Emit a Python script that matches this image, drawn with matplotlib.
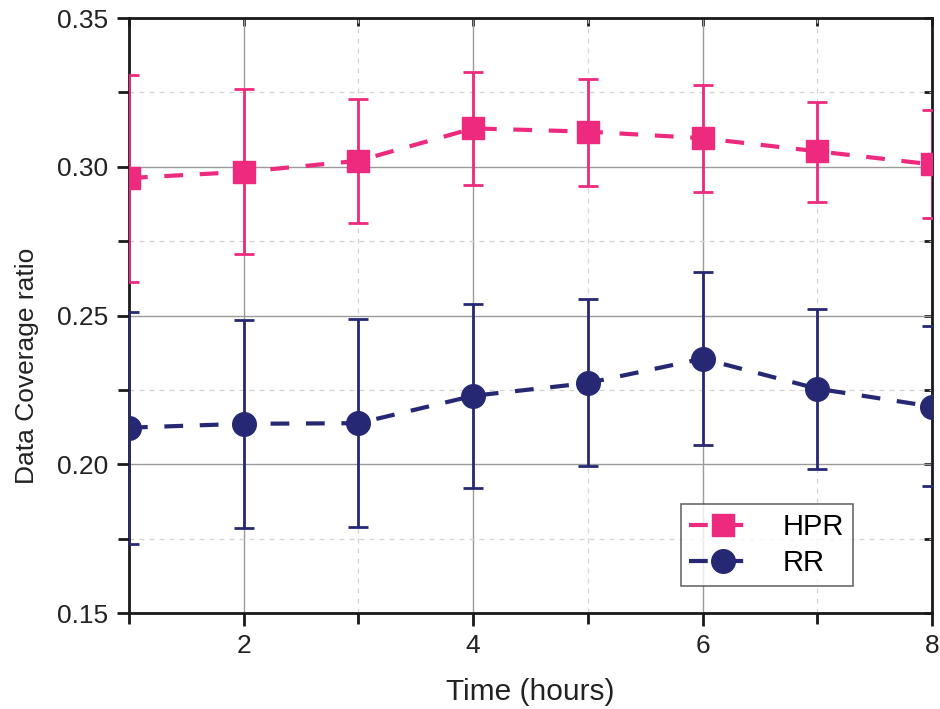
import matplotlib
matplotlib.use("Agg")
import matplotlib.pyplot as plt
from matplotlib.lines import Line2D
from matplotlib.ticker import MultipleLocator, FormatStrFormatter

# time points (hours)
hours = [1, 2, 3, 4, 5, 6, 7, 8]

# HPR mean with upper/lower error bar ends
hpr = [0.2962, 0.2983, 0.3020, 0.3129, 0.3118, 0.3096, 0.3052, 0.3008]
hpr_hi = [0.3309, 0.3262, 0.3229, 0.3319, 0.3296, 0.3275, 0.3219, 0.3190]
hpr_lo = [0.2613, 0.2706, 0.2810, 0.2938, 0.2936, 0.2915, 0.2881, 0.2828]

# RR mean with upper/lower error bar ends
rr = [0.2123, 0.2136, 0.2138, 0.2230, 0.2273, 0.2355, 0.2254, 0.2194]
rr_hi = [0.2511, 0.2484, 0.2488, 0.2539, 0.2556, 0.2646, 0.2523, 0.2466]
rr_lo = [0.1732, 0.1785, 0.1789, 0.1920, 0.1993, 0.2066, 0.1985, 0.1926]

PINK = "#ED2A7E"
NAVY = "#262873"
DASH = (0, (4.5, 4))

plt.rcParams.update({"font.family": ["Liberation Sans", "DejaVu Sans"]})

fig = plt.figure(figsize=(9.4, 7.09), dpi=100)
ax = fig.add_axes([0.1372, 0.1354, 0.8543, 0.8392])


def series(y, lo, hi, color, marker, ms):
    yerr = [[m - l for m, l in zip(y, lo)], [h - m for m, h in zip(y, hi)]]
    ax.errorbar(hours, y, yerr=yerr, color=color, ecolor=color, elinewidth=2,
                capsize=7, capthick=2, linestyle=DASH, linewidth=3,
                marker=marker, markersize=ms, zorder=3)
    # legend handle: dashed line + marker, no error bar
    return Line2D([], [], color=color, linestyle=DASH, linewidth=3,
                  marker=marker, markersize=ms)


h1 = series(hpr, hpr_lo, hpr_hi, PINK, "s", 16)
h2 = series(rr, rr_lo, rr_hi, NAVY, "o", 17)

ax.set_xlim(1, 8)
ax.set_ylim(0.15, 0.35)
ax.xaxis.set_major_locator(MultipleLocator(2))
ax.xaxis.set_minor_locator(MultipleLocator(1))
ax.yaxis.set_major_locator(MultipleLocator(0.05))
ax.yaxis.set_minor_locator(MultipleLocator(0.025))
ax.yaxis.set_major_formatter(FormatStrFormatter("%.2f"))

ax.grid(which="major", color="#9a9a9a", linewidth=1.0, linestyle="-")
ax.grid(which="minor", color="#d4d4d4", linewidth=0.9, linestyle=(0, (4, 4)))
ax.set_axisbelow(True)

for s in ax.spines.values():
    s.set_linewidth(2)
    s.set_color("#1a1a1a")

ax.tick_params(which="both", direction="out", width=2, color="#1a1a1a",
               labelsize=19, labelcolor="#222222", top=False, right=False)
ax.tick_params(which="major", length=9)
ax.tick_params(which="minor", length=8)
ax.tick_params(axis="y", pad=6)
ax.tick_params(axis="x", pad=6)

# inward ticks on the top and right spines
axt = ax.secondary_xaxis("top")
axt.xaxis.set_major_locator(MultipleLocator(2))
axt.xaxis.set_minor_locator(MultipleLocator(1))
axt.tick_params(which="both", direction="in", length=6, width=2,
                color="#1a1a1a", labeltop=False)
axr = ax.secondary_yaxis("right")
axr.yaxis.set_major_locator(MultipleLocator(0.05))
axr.yaxis.set_minor_locator(MultipleLocator(0.025))
axr.tick_params(which="both", direction="in", length=6, width=2,
                color="#1a1a1a", labelright=False)
for a in (axt, axr):
    for s in a.spines.values():
        s.set_visible(False)

ax.set_xlabel("Time (hours)", fontsize=21.5, color="#222222")
ax.xaxis.set_label_coords(0.5, -0.11)
ax.set_ylabel("Data Coverage ratio", fontsize=19, color="#222222")
ax.yaxis.set_label_coords(-0.112, 0.415)

leg = ax.legend([h1, h2], ["HPR", "RR"], loc="lower right",
                bbox_to_anchor=(0.9015, 0.045), fontsize=21,
                frameon=True, fancybox=False, edgecolor="#444444",
                handlelength=2.3, handletextpad=0.9, borderpad=0.3,
                labelspacing=0.3, borderaxespad=0)
leg.get_frame().set_linewidth(1.2)

fig.savefig("out.png", dpi=100)
